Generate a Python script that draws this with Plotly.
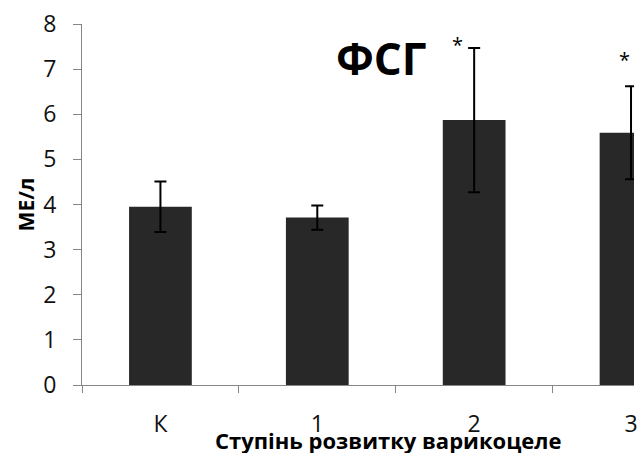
import plotly.graph_objects as go

# FSH level by varicocele grade (mean ± error)
categories = ["К", "1", "2", "3"]
fsh_mean = [3.95, 3.71, 5.87, 5.59]
fsh_err = [0.56, 0.27, 1.60, 1.03]
significant = [False, False, True, True]

y_ticks = [0, 1, 2, 3, 4, 5, 6, 7, 8]

FONT = "Open Sans"
BAR_COLOR = "#282828"
AXIS_COLOR = "#868686"
TEXT_COLOR = "#111111"

W, H = 638, 453
L, T, B = 82, 24, 68
CAT_STEP = 158.0  # pixel width of one category slot


def px_to_paper(px, py):
    """Pixel position on the page -> paper coordinates of the plot area."""
    return (px - L) / (W - L), (H - B - py) / (H - T - B)


fig = go.Figure()
fig.add_trace(go.Bar(
    x=categories,
    y=fsh_mean,
    marker=dict(color=BAR_COLOR, line=dict(width=0)),
    width=0.4,
    error_y=dict(type="data", array=fsh_err, visible=True,
                 color="#000000", thickness=2, width=6),
    showlegend=False,
))

# significance markers next to the error-bar caps
star_shift = {2: (-17, 3), 3: (-7, 27)}
for i, flag in enumerate(significant):
    if flag:
        dx, dy = star_shift[i]
        fig.add_annotation(
            x=i, y=fsh_mean[i] + fsh_err[i], xref="x", yref="y",
            text="*", showarrow=False, xshift=dx, yshift=dy,
            font=dict(family=FONT, size=20, color="#000000"),
            yanchor="middle", xanchor="center",
        )

# chart title
tx, ty = px_to_paper(384, 58)
fig.add_annotation(
    x=tx, y=ty, xref="paper", yref="paper", text="ФСГ", showarrow=False,
    font=dict(family=FONT, size=44, color="#000000", weight="bold"),
    xanchor="center", yanchor="middle",
)

# x axis title, drawn close under the category labels
ax, ay = px_to_paper(390, 440)
fig.add_annotation(
    x=ax, y=ay, xref="paper", yref="paper",
    text="Ступінь розвитку варикоцеле", showarrow=False,
    font=dict(family=FONT, size=22, color="#000000", weight="bold"),
    xanchor="center", yanchor="middle",
)

x_right = -0.5 + (W - L) / CAT_STEP

fig.update_layout(
    width=W, height=H,
    margin=dict(l=L, r=0, t=T, b=B, pad=0),
    paper_bgcolor="white", plot_bgcolor="white",
    font=dict(family=FONT, size=23, color=TEXT_COLOR),
    bargap=0.6,
    xaxis=dict(
        type="category", range=[-0.5, x_right],
        showline=True, linecolor=AXIS_COLOR, linewidth=1,
        ticks="outside", tickson="boundaries", ticklen=7,
        tickcolor=AXIS_COLOR, tickwidth=1,
        showgrid=False, zeroline=False,
        ticklabelstandoff=18,
        tickfont=dict(family=FONT, size=23, color=TEXT_COLOR),
    ),
    yaxis=dict(
        range=[0, 8], tickvals=y_ticks,
        showline=True, linecolor=AXIS_COLOR, linewidth=1,
        ticks="outside", ticklen=8, tickcolor=AXIS_COLOR, tickwidth=1,
        showgrid=False, zeroline=False,
        ticklabelstandoff=12,
        tickfont=dict(family=FONT, size=23, color=TEXT_COLOR),
        title=dict(text="МЕ/л", standoff=2,
                   font=dict(family=FONT, size=21, color="#000000", weight="bold")),
    ),
)

fig.write_html("out.html")
